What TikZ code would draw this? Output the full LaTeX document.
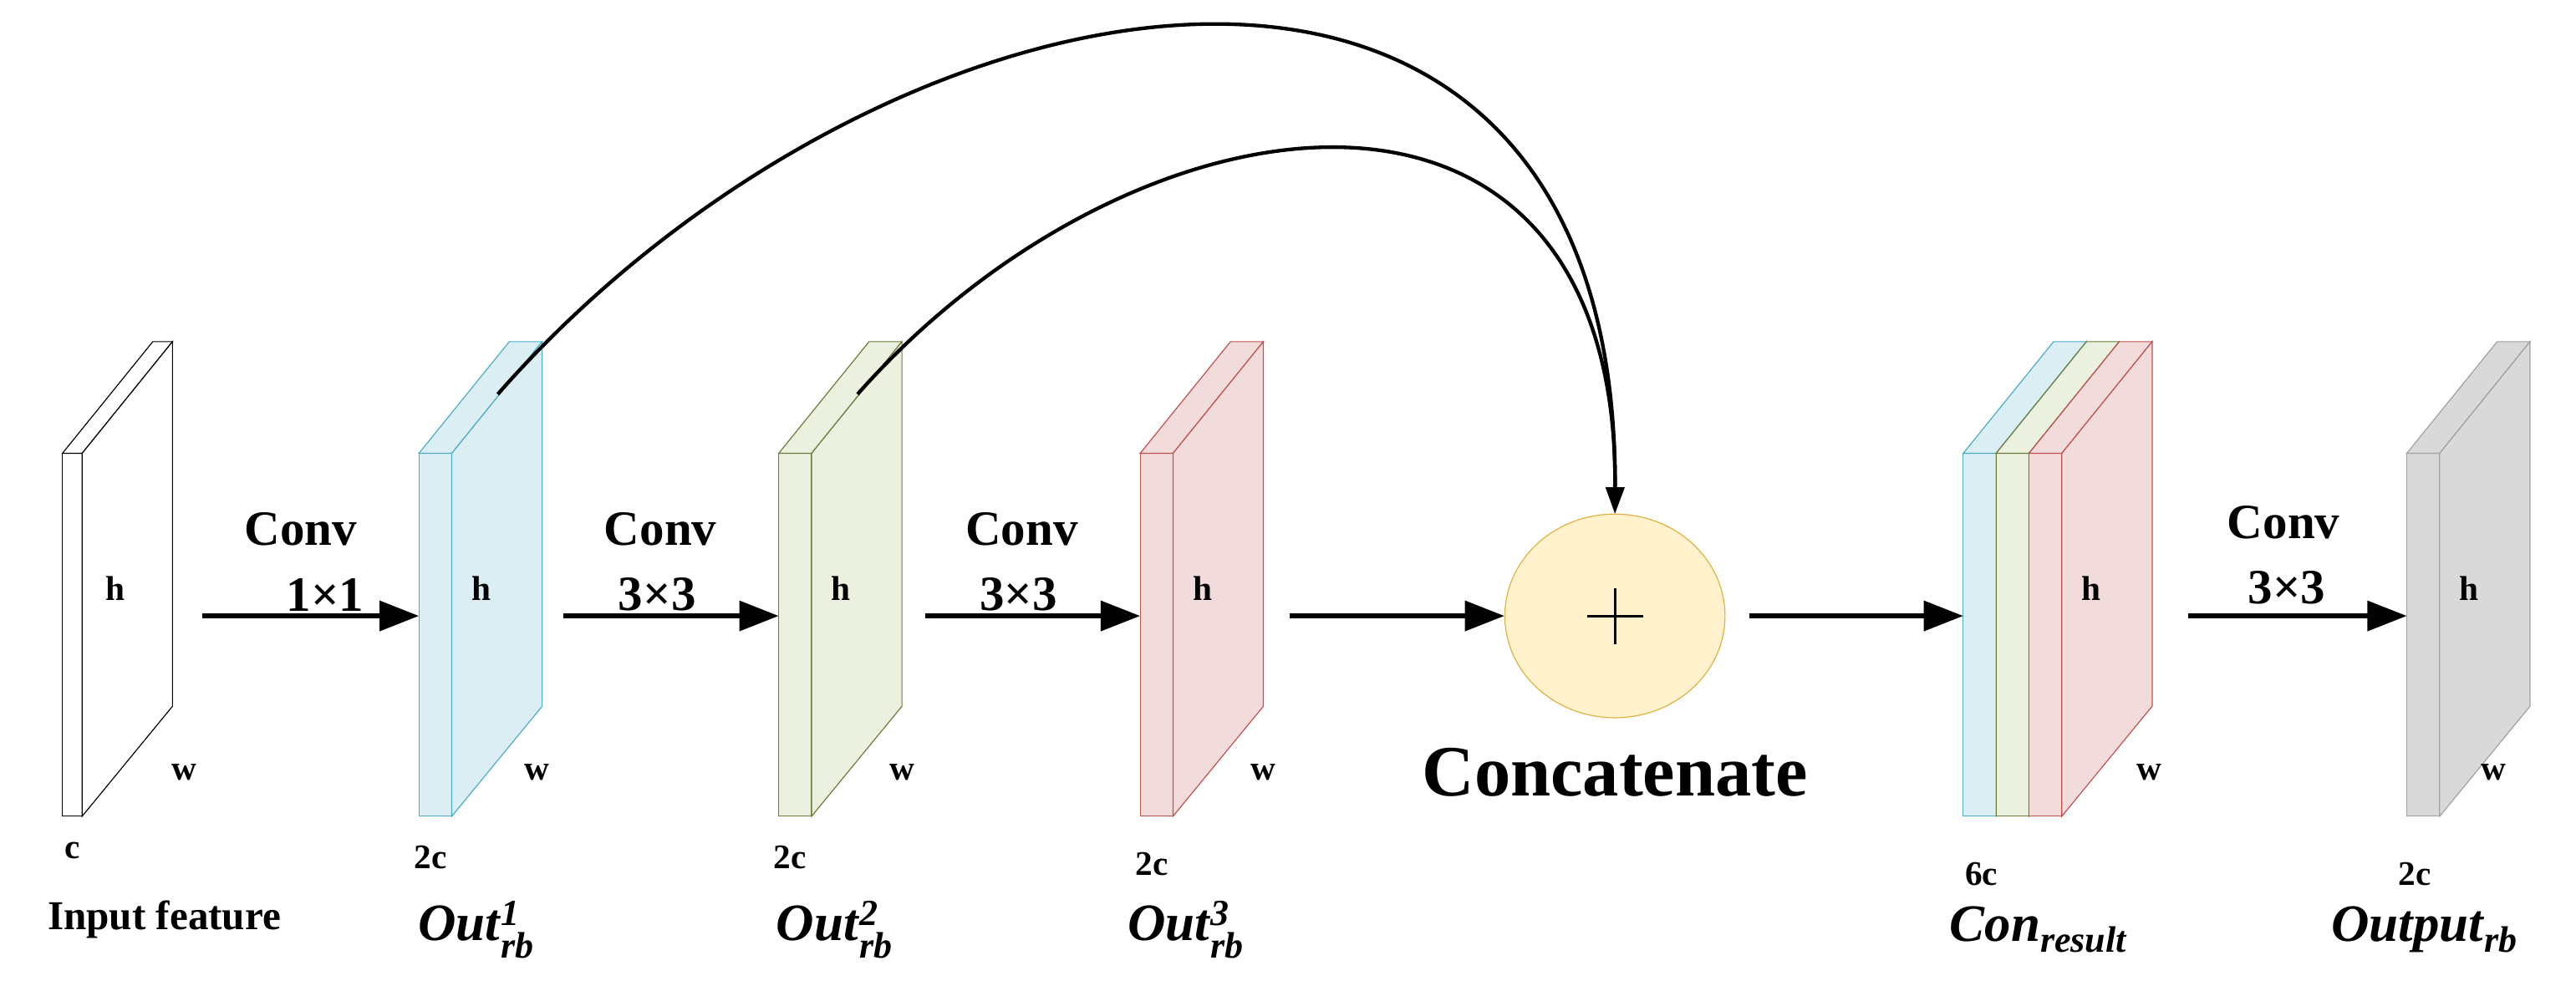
\documentclass[tikz,border=0pt]{standalone}
\usepackage{amsmath}
\usepackage{fontspec}
\setmainfont{Liberation Serif}
\usetikzlibrary{arrows.meta,shapes.geometric}
\definecolor{bF}{HTML}{DAEEF3}\definecolor{bD}{HTML}{4BACC6}
\definecolor{gF}{HTML}{EBF1DE}\definecolor{gD}{HTML}{6B7B3A}
\definecolor{rF}{HTML}{F2DCDB}\definecolor{rD}{HTML}{C0504D}
\definecolor{yF}{HTML}{FFF2CC}\definecolor{yD}{HTML}{E0B040}
\definecolor{kF}{HTML}{D9D9D9}\definecolor{kD}{HTML}{A0A0A0}
\newcommand\myslab[4]{% x, width, fill, draw
 \filldraw[fill=#3,draw=#4,line width=0.6pt] (#1,276) rectangle ++(#2,221);
 \filldraw[fill=#3,draw=#4,line width=0.6pt] (#1,276) -- ++(55,-68) -- ++(#2,0) -- ++(-55,68) -- cycle;
 \filldraw[fill=#3,draw=#4,line width=0.6pt] (#1+#2,276) -- ++(55,-68) -- ++(0,222) -- ++(-55,67) -- cycle;}
\newcommand\bi[1]{\textbf{\textit{#1}}}
\begin{document}
\begin{tikzpicture}[x=1pt,y=-1pt,
 lab/.style={font=\fontsize{30}{34}\selectfont\bfseries,inner sep=0},
 small/.style={font=\fontsize{21}{24}\selectfont\bfseries,inner sep=0},
 ttl/.style={font=\fontsize{32}{36}\selectfont,inner sep=0},
 arr/.style={line width=2.8pt,-{Triangle[length=24pt,width=18pt]}},
 cur/.style={line width=2.2pt,-{Triangle[length=16pt,width=11pt]}}]
\useasboundingbox (0,0) rectangle (1568,600);
\myslab{38}{12}{white}{black}
\myslab{255}{20}{bF}{bD}
\myslab{474}{20}{gF}{gD}
\myslab{694}{20}{rF}{rD}
\myslab{1195}{20}{bF}{bD}
\myslab{1215}{20}{gF}{gD}
\myslab{1235}{20}{rF}{rD}
\myslab{1465}{20}{kF}{kD}
% slab anchors
\coordinate (b1) at (255,375);
\coordinate (g1) at (474,375);
\coordinate (r1) at (694,375);
\coordinate (cr) at (1195,375);
\coordinate (gy) at (1465,375);
\coordinate (bt) at (303,240);\coordinate (gt) at (522,240);
% h / w / c
\foreach \x in {70,293,512,732,1273,1503} \node[small] at (\x,358) {h};
\foreach \x in {112,327,549,769,1308,1518} \node[small] at (\x,470) {w};
\node[small] at (44,518) {c};
\node[small] at (262,522) {2c};
\node[small] at (481,522) {2c};
\node[small] at (701,526) {2c};
\node[small] at (1206,532) {6c};
\node[small] at (1470,532) {2c};
\node[font=\fontsize{25}{28}\selectfont\bfseries,inner sep=0] at (100,560) {Input feature};
\node[ttl] at (290,566) {\bi{Out}$^{\bi{1}}_{\bi{rb}}$};
\node[ttl] at (508,566) {\bi{Out}$^{\bi{2}}_{\bi{rb}}$};
\node[ttl] at (722,566) {\bi{Out}$^{\bi{3}}_{\bi{rb}}$};
\node[ttl] at (1241,566) {\bi{Con}$_{\bi{result}}$};
\node[ttl] at (1476,566) {\bi{Output}$_{\bi{rb}}$};
% circle
\node[draw=yD,fill=yF,ellipse,minimum width=134pt,minimum height=124pt,inner sep=0,line width=0.6pt] (cat) at (983,375) {};
\draw[line width=1.5pt] (966,375)--(1000,375) (983,358)--(983,392);
\node[font=\fontsize{44}{48}\selectfont\bfseries,inner sep=0] at (983,470) {Concatenate};
% arrows
\coordinate (ce) at (1065,375);
\draw[arr] (123,375) -- (b1);
\draw[arr] (343,375) -- (g1);
\draw[arr] (563,375) -- (r1);
\draw[arr] (785,375) -- (cat.west);
\draw[arr] (ce) -- (cr);
\draw[arr] (1332,375) -- (gy);
% conv labels
\node[lab] at (183,322) {Conv}; \node[lab] at (198,362) {1×1};
\node[lab] at (402,322) {Conv}; \node[lab] at (400,362) {3×3};
\node[lab] at (622,322) {Conv}; \node[lab] at (620,362) {3×3};
\node[lab] at (1390,318) {Conv}; \node[lab] at (1392,358) {3×3};
% curves
\draw[cur] (bt) .. controls (540,-30) and (985,-110) .. (cat.north);
\draw[cur] (gt) .. controls (690,50) and (985,10) .. (cat.north);
\end{tikzpicture}
\end{document}
